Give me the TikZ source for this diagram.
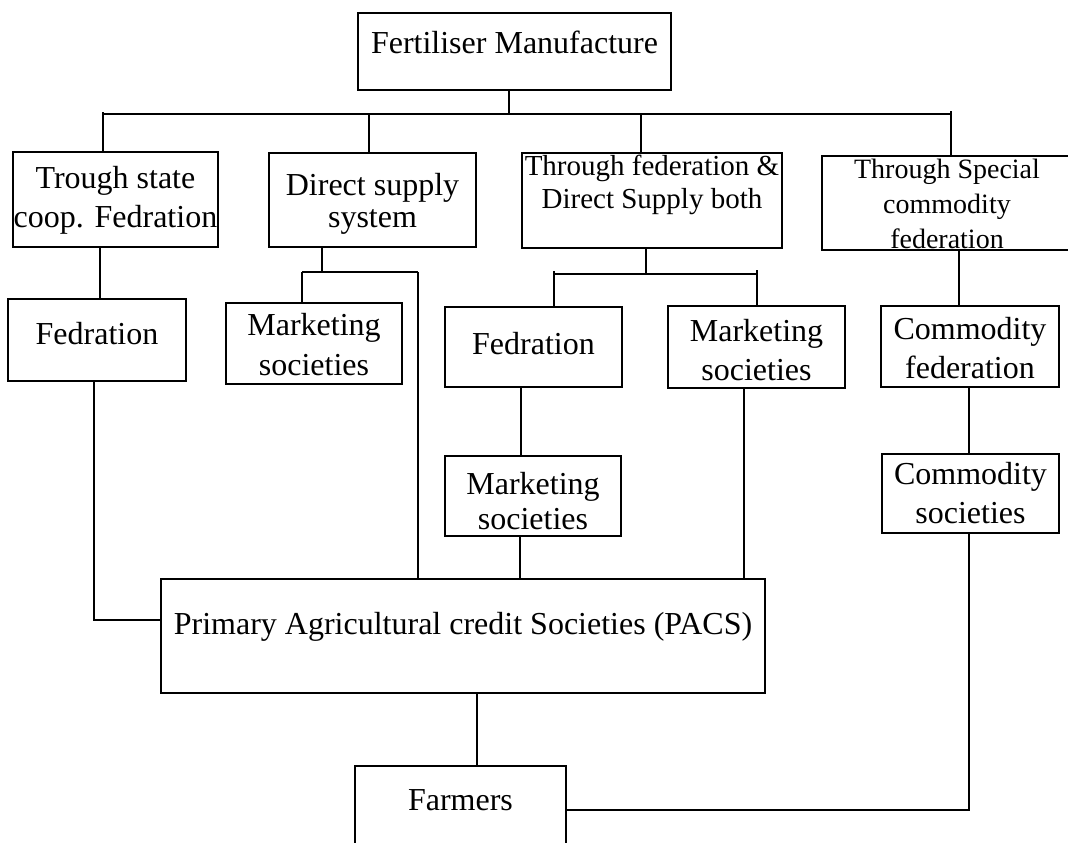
\documentclass[tikz,border=0pt]{standalone}
\usepackage{fontspec}
\setmainfont{Liberation Serif}
\begin{document}
\begin{tikzpicture}[x=1pt,y=-1pt,
  bx/.style={draw, line width=2.6pt, inner sep=0pt, align=center,
             font=\fontsize{32}{39}\selectfont, text height=22pt},
  ln/.style={line width=2.3pt}]
\useasboundingbox (0,0) rectangle (1068,843);
\fill[white] (0,0) rectangle (1068,843);
\clip (0,0) rectangle (1068,843);

% boxes
\node[bx, minimum width=313pt, minimum height=77pt, text depth=19pt] (top) at (514.5,51.5) {Fertiliser Manufacture};

\node[bx, minimum width=205pt, minimum height=95pt, text height=55pt, text depth=0pt] (b1) at (115.5,199.5) {Trough state\\coop. Fedration};
\node[bx, minimum width=207pt, minimum height=94pt, text height=54pt, text depth=0pt, font=\fontsize{32}{32}\selectfont] (b2) at (372.5,200) {Direct supply\\system};
\node[bx, minimum width=260pt, minimum height=95pt, text height=15pt, text depth=0pt, font=\fontsize{29}{33}\selectfont] (b3) at (652,200.5) {Through federation \&\\Direct Supply both};
\node[bx, minimum width=250pt, minimum height=94pt, text height=90pt, text depth=0pt, font=\fontsize{28}{35}\selectfont] (b4) at (947,203) {Through Special\\commodity\\federation};

\node[bx, minimum width=178pt, minimum height=82pt, text depth=14pt] (fed1) at (97,340) {Fedration};
\node[bx, minimum width=176pt, minimum height=81pt, text height=63pt, text depth=0pt, font=\fontsize{32}{40}\selectfont] (ms2) at (314,343.5) {Marketing\\societies};
\node[bx, minimum width=177pt, minimum height=80pt, text depth=8pt] (fed3) at (533.5,347) {Fedration};
\node[bx, minimum width=176pt, minimum height=80pt, text height=66pt, text depth=0pt, font=\fontsize{32}{35}\selectfont] (ms3) at (533,496) {Marketing\\societies};
\node[bx, minimum width=177pt, minimum height=82pt, text height=66pt, text depth=0pt] (ms3r) at (756.5,347) {Marketing\\societies};
\node[bx, minimum width=178pt, minimum height=81pt, text height=63pt, text depth=0pt] (cf) at (970,346.5) {Commodity\\federation};
\node[bx, minimum width=177pt, minimum height=79pt, text height=59pt, text depth=0pt] (cs) at (970.5,493.5) {Commodity\\societies};

\node[bx, minimum width=604pt, minimum height=114pt, text depth=26pt] (pacs) at (463,636) {Primary Agricultural credit Societies (PACS)};
\node[bx, minimum width=211pt, minimum height=120pt, text depth=54pt] (farmers) at (460.5,826) {Farmers};

% helper coordinates
\coordinate (jTop) at (509,114);
\coordinate (busL) at (103,114);
\coordinate (j2) at (369,114);
\coordinate (j3) at (641,114);
\coordinate (busR) at (951,114);
\coordinate (c1) at (100,0);
\coordinate (s2M) at (322,272);
\coordinate (s2L) at (302,272);
\coordinate (s2R) at (418,272);
\coordinate (c2) at (94,620);
\coordinate (s3M) at (646,274);
\coordinate (s3L) at (554,274);
\coordinate (s3R) at (757,274);
\coordinate (c3) at (521,0);
\coordinate (c4) at (520,0);
\coordinate (c5) at (744,0);
\coordinate (c6) at (959,0);
\coordinate (c7) at (969,810);
\coordinate (c8) at (477,0);

% connectors
\draw[ln] (jTop |- top.south) -- (jTop);
\draw[ln] ([yshift=2pt]busL) -- (busL) -- (busR) -- ([yshift=3pt]busR);
\draw[ln] (busL) -- (busL |- b1.north);
\draw[ln] (j2) -- (j2 |- b2.north);
\draw[ln] (j3) -- (j3 |- b3.north);
\draw[ln] (busR) -- (busR |- b4.north);

\draw[ln] (c1 |- b1.south) -- (c1 |- fed1.north);
\draw[ln] (c2 |- fed1.south) -- (c2) -- (c2 -| pacs.west);

\draw[ln] (s2M |- b2.south) -- (s2M);
\draw[ln] (s2L) -- (s2R);
\draw[ln] (s2L) -- (s2L |- ms2.north);
\draw[ln] (s2R) -- (s2R |- pacs.north);

\draw[ln] (s3M |- b3.south) -- (s3M);
\draw[ln] (s3L) -- (s3R);
\draw[ln] ([yshift=3pt]s3L) -- (s3L |- fed3.north);
\draw[ln] ([yshift=4pt]s3R) -- (s3R |- ms3r.north);
\draw[ln] (c3 |- fed3.south) -- (c3 |- ms3.north);
\draw[ln] (c4 |- ms3.south) -- (c4 |- pacs.north);
\draw[ln] (c5 |- ms3r.south) -- (c5 |- pacs.north);

\draw[ln] (c6 |- b4.south) -- (c6 |- cf.north);
\draw[ln] (c7 |- cf.south) -- (c7 |- cs.north);
\draw[ln] (c7 |- cs.south) -- (c7) -- (c7 -| farmers.east);
\draw[ln] (c8 |- pacs.south) -- (c8 |- farmers.north);
\end{tikzpicture}
\end{document}
